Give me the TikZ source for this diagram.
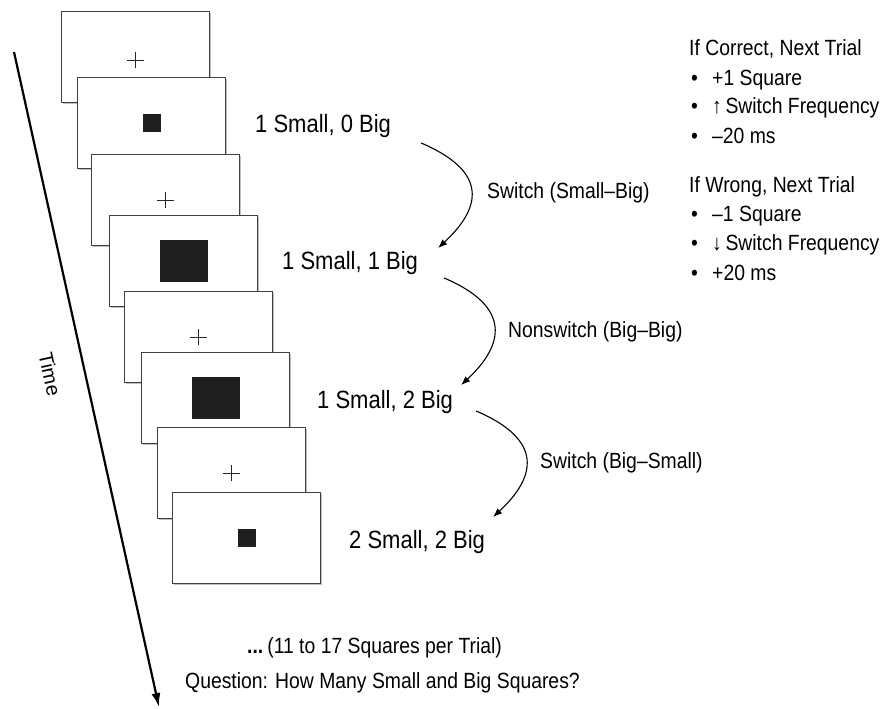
\documentclass[tikz,border=0pt]{standalone}
\usepackage[no-math]{fontspec}
\setmainfont{Liberation Sans}[FakeStretch=0.88]
\newfontfamily\timefont{Liberation Sans}
\usetikzlibrary{arrows.meta}
\usetikzlibrary{shadows}
\usetikzlibrary{shapes.misc}

\tikzset{
  screen/.style={draw=black!75, line width=1pt, fill=white, minimum width=148pt, minimum height=91pt,
    anchor=north west, inner sep=0pt, drop shadow={shadow xshift=1.2pt, shadow yshift=-1.2pt, opacity=0.5}},
  bigsq/.style={fill=black!88, minimum width=48pt, minimum height=42pt, inner sep=0pt},
  smallsq/.style={fill=black!88, minimum size=18pt, inner sep=0pt},
  fix/.style={cross out, draw=black!85, line width=0.8pt, rotate=45, minimum size=10.6pt, inner sep=0pt},
  count/.style={anchor=base west, inner sep=0pt, font=\fontsize{25}{30}\selectfont},
  trans/.style={anchor=west, inner sep=0pt, font=\fontsize{22}{26}\selectfont},
  note/.style={anchor=base west, inner sep=0pt, font=\fontsize{22}{26}\selectfont},
  turn/.style={-{Latex[length=9pt,width=7pt]}, line width=1.1pt},
}

\begin{document}
\begin{tikzpicture}[x=1pt, y=-1pt]
    \useasboundingbox (0,0) rectangle (889,709);
    % stack of screens
    \node[screen] (f1) at (61,11) {};
    \node[fix] (c1) at ([yshift=-3pt]f1) {};
    \node[screen] (f2) at (77,77) {};
    \node[smallsq] (c2) at (f2) {};
    \node[screen] (f3) at (91,154) {};
    \node[fix] (c3) at (f3) {};
    \node[screen] (f4) at (109,215) {};
    \node[bigsq] (c4) at (f4) {};
    \node[screen] (f5) at (124,291) {};
    \node[fix] (c5) at (f5) {};
    \node[screen] (f6) at (141,352) {};
    \node[bigsq] (c6) at (f6) {};
    \node[screen] (f7) at (157,427) {};
    \node[fix] (c7) at (f7) {};
    \node[screen] (f8) at (172,492) {};
    \node[smallsq] (c8) at (f8) {};
    % counts
    \node[count] (n1) at (255,132) {1 Small, 0 Big};
    \node[count] (n2) at (282,269) {1 Small, 1 Big};
    \node[count] (n3) at (317,408) {1 Small, 2 Big};
    \node[count] (n4) at (349,548) {2 Small, 2 Big};
    % transitions
    \draw[turn] ([shift={(30,11)}]n1.base east) .. controls +(68,29) and +(43,-40) .. ([shift={(20,-21)}]n2.base east);
    \draw[turn] ([shift={(26,9)}]n2.base east) .. controls +(68,29) and +(43,-40) .. ([shift={(8,-23)}]n3.base east);
    \draw[turn] ([shift={(23,3)}]n3.base east) .. controls +(68,29) and +(43,-40) .. ([shift={(8,-31)}]n4.base east);
    \node[trans] (s1) at (487,193) {Switch (Small–Big)};
    \node[trans] (s2) at (508,332) {Nonswitch (Big–Big)};
    \node[trans] (s3) at (540,463) {Switch (Big–Small)};
    % feedback rules
    \node[note] (h1) at (689,56) {If Correct, Next Trial};
    \node[note] (a1) at (691,85) {\makebox[21pt][l]{\textbullet}+1 Square};
    \node[note] (a2) at (691,113) {\makebox[21pt][l]{\textbullet}↑\,Switch Frequency};
    \node[note] (a3) at (691,143) {\makebox[21pt][l]{\textbullet}–20 ms};
    \node[note] (h2) at (689,192) {If Wrong, Next Trial};
    \node[note] (b1) at (691,221) {\makebox[21pt][l]{\textbullet}–1 Square};
    \node[note] (b2) at (691,250) {\makebox[21pt][l]{\textbullet}↓\,Switch Frequency};
    \node[note] (b3) at (691,280) {\makebox[21pt][l]{\textbullet}+20 ms};
    % bottom text
    \node[note] (more) at (247,653) {\textbf{...}\hspace{4pt}(11 to 17 Squares per Trial)};
    \node[note] (ask) at (185,688) {Question: How Many Small and Big Squares?};
    % time axis
    \coordinate (tstart) at (14,52);
    \coordinate (tend) at (159,707);
    \draw[-{Latex[length=14pt,width=9pt]}, line width=2.2pt] (tstart) -- (tend);
    \node[rotate=-77.5, inner sep=0pt, font=\timefont\fontsize{20}{24}\selectfont] (time) at (50,374) {Time};
\end{tikzpicture}
\end{document}
